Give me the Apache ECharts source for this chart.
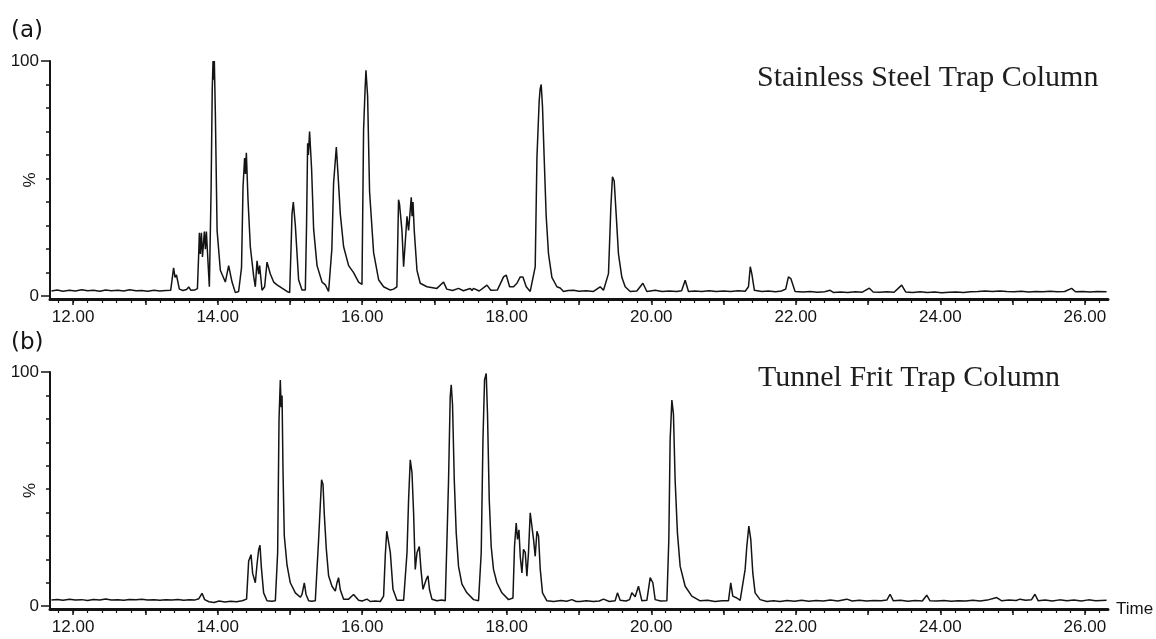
<!DOCTYPE html>
<html>
<head>
<meta charset="utf-8">
<script src="https://cdn.jsdelivr.net/npm/echarts@6/dist/echarts.min.js"></script>
<style>
html,body{margin:0;padding:0;background:#fff;}
#chart{width:1156px;height:639px;}
</style>
</head>
<body>
<div id="chart"></div>
<script>
// Retention time (min), relative intensity (%) pairs
var traceA = [
[11.70,2.2],[11.78,2.6],[11.86,2.1],[11.95,2.5],[12.03,2.2],[12.12,2.7],[12.20,2.3],[12.28,2.5],[12.37,2.1],[12.45,2.6],[12.53,2.3],[12.62,2.5],[12.70,2.2],[12.78,2.7],[12.87,2.3],[12.95,2.4],[13.03,2.1],[13.12,2.5],[13.20,2.2],[13.28,2.4],[13.35,2.5],
[13.39,12],[13.41,8],[13.43,9],[13.47,3],[13.52,2.4],[13.57,2.8],[13.60,3.9],[13.63,2.5],[13.68,2.6],[13.72,3.2],
[13.74,20],[13.747,27],[13.76,18],[13.775,27],[13.79,16.7],[13.816,27.5],[13.83,20],[13.844,27.5],[13.862,17],[13.885,4],[13.909,45],[13.925,88],[13.936,100],[13.945,92],[13.954,100],[13.968,78],[13.992,28],[14.037,11],[14.106,6],[14.152,13],[14.199,6],[14.245,1.5],[14.29,2],[14.33,12],[14.351,46.5],[14.373,58.7],[14.385,52],[14.397,61],[14.42,41],[14.452,21],[14.498,8.5],[14.521,4],[14.545,15],[14.567,9.4],[14.581,13],[14.614,2.5],[14.65,4],[14.683,14.5],[14.729,9.4],[14.775,6],[14.821,4.8],[14.89,3.4],[14.96,2],[14.996,1.5],
[15.015,20],[15.029,35],[15.047,40],[15.075,30],[15.12,7],[15.167,2.6],[15.213,2.6],[15.23,30],[15.245,65],[15.255,60],[15.272,70],[15.30,54],[15.328,28.5],[15.375,13],[15.444,6],[15.49,4.8],[15.535,2],[15.559,1.5],[15.58,20],[15.604,48],[15.642,63.4],[15.665,52],[15.697,35],[15.743,21],[15.812,13],[15.881,10],[15.95,6],[15.997,5],
[16.019,70.6],[16.04,88],[16.052,96],[16.075,85],[16.102,44.5],[16.158,18.5],[16.227,7],[16.296,4],[16.389,2.6],[16.434,3],[16.48,4],[16.503,41],[16.517,39],[16.55,28],[16.573,12.5],[16.62,34],[16.642,28],[16.679,42],[16.69,34],[16.703,40],[16.72,28],[16.758,11],[16.803,5.5],[16.896,4],
[17.034,3.3],[17.126,6],[17.17,3],[17.25,2.4],[17.333,3.3],[17.40,2.3],[17.495,3.3],[17.52,2.4],[17.54,3.3],[17.62,2.2],[17.726,4.7],[17.78,2.5],[17.87,2.6],[17.956,8.2],[17.993,9],
[18.04,4],[18.094,4],[18.141,5.5],[18.187,8.2],[18.224,8.2],[18.27,4],[18.325,2],[18.394,12.5],[18.418,59],[18.449,83],[18.462,88],[18.477,90],[18.495,80.5],[18.518,59],[18.546,34],[18.578,18],[18.625,8],[18.694,4],[18.74,3.5],[18.786,2],[18.85,2.4],[18.924,2.5],
[19.0,2.1],[19.10,2.3],[19.20,2.0],[19.293,4],[19.339,2.5],[19.362,3],[19.408,9.6],[19.441,38],[19.463,50.8],[19.487,49],[19.514,35],[19.546,18],[19.593,8],[19.639,4],[19.708,2],[19.80,2.2],[19.884,5.5],[19.939,2],
[20.054,2.5],[20.15,2.0],[20.25,2.2],[20.35,2.0],[20.42,2.3],[20.469,6.8],[20.515,2],[20.60,2.2],[20.70,2.0],[20.80,2.3],[20.90,2.0],
[21.00,2.2],[21.10,2.0],[21.20,2.3],[21.30,2.1],[21.345,4],[21.37,12.5],[21.391,9.6],[21.427,2.5],[21.53,2],[21.62,2.2],[21.72,1.9],[21.80,2.2],[21.86,3],[21.898,8.2],[21.931,7.5],[21.99,2],
[22.10,1.8],[22.20,2.0],[22.30,1.7],[22.40,1.9],[22.474,2.5],[22.52,1.6],[22.62,1.8],[22.72,1.6],[22.82,1.9],[22.92,1.7],
[23.018,3.4],[23.07,1.8],[23.16,1.7],[23.26,1.9],[23.36,1.7],[23.465,4.7],[23.52,1.8],[23.62,1.6],[23.72,1.9],[23.82,1.6],[23.92,1.8],
[24.02,1.5],[24.12,1.7],[24.22,1.8],[24.32,1.6],[24.42,1.9],[24.52,2.0],[24.62,2.2],[24.72,2.0],[24.82,2.2],[24.92,2.0],
[25.02,1.9],[25.12,2.1],[25.22,1.8],[25.32,2.0],[25.42,1.9],[25.52,2.1],[25.62,1.9],[25.72,2.0],[25.817,3.3],[25.87,1.9],[25.97,2.0],
[26.07,1.8],[26.17,2.0],[26.30,1.9]
];

var traceB = [
[11.70,2.6],[11.78,2.9],[11.86,2.5],[11.95,3.0],[12.03,2.6],[12.12,2.8],[12.20,2.4],[12.28,2.9],[12.37,2.6],[12.45,3.1],[12.53,2.6],[12.62,2.8],[12.70,2.5],[12.78,2.9],[12.87,2.7],[12.95,3.0],
[13.03,2.6],[13.12,2.8],[13.20,2.5],[13.28,2.8],[13.37,2.6],[13.45,2.9],[13.53,2.5],[13.61,2.8],[13.68,2.6],[13.74,3.2],[13.784,5.5],[13.82,2.8],[13.88,1.9],[13.95,1.6],
[14.02,2.2],[14.10,1.8],[14.18,2.1],[14.26,1.9],[14.34,2.3],[14.40,3],
[14.429,19.3],[14.462,22],[14.484,14],[14.521,10],[14.545,18],[14.567,24],[14.586,26],[14.604,16.8],[14.636,5.7],[14.683,2.3],[14.75,2.1],[14.798,2.3],
[14.83,22.8],[14.849,79.6],[14.867,96.6],[14.878,85],[14.891,90],[14.904,58],[14.922,30],[14.96,17.5],[15.005,10],[15.075,5.7],[15.144,3.8],[15.167,5],[15.199,10],[15.223,5],[15.259,2.3],[15.30,2.1],[15.351,2.3],
[15.397,28.5],[15.42,43],[15.438,54],[15.458,52],[15.476,39],[15.503,24.6],[15.535,13],[15.582,8.5],[15.628,6.4],[15.651,10],[15.673,12.2],[15.697,7],[15.743,3],[15.812,3],[15.881,5],[15.95,2.5],
[16.00,2.2],[16.066,3],[16.112,2],[16.18,2.2],[16.25,2.0],[16.296,4.3],[16.32,22],[16.34,32],[16.365,32],[16.389,23],[16.426,7.2],[16.481,2.5],[16.573,2.5],
[16.62,22.8],[16.642,45.5],[16.665,62.5],[16.689,57],[16.711,40],[16.734,15.7],[16.758,22.8],[16.79,25.5],[16.813,15.7],[16.841,7.2],[16.887,11.5],[16.91,13],[16.932,7],[16.965,3],
[17.034,2.3],[17.10,2.6],[17.149,2.3],[17.173,28.5],[17.195,54],[17.218,89.5],[17.232,94.5],[17.25,86],[17.274,54],[17.301,31.3],[17.333,17],[17.38,9.4],[17.449,5.7],[17.541,2.8],[17.61,2.3],
[17.647,22.8],[17.671,71],[17.693,96.6],[17.716,99.4],[17.734,82],[17.758,45.5],[17.785,25.5],[17.817,15.7],[17.864,10],[17.933,5.7],
[18.025,2.8],[18.086,3.5],[18.108,25.7],[18.131,35.5],[18.149,28.5],[18.169,32.6],[18.187,21.3],[18.21,14.2],[18.232,24.3],[18.256,23],[18.279,12.8],[18.301,22.8],[18.325,39.9],[18.348,40.6],[18.371,28.5],[18.394,21.3],[18.418,32],[18.44,30],[18.464,15.7],[18.495,5.7],[18.556,2.3],
[18.65,2.0],[18.75,2.4],[18.83,2.1],[18.902,2.8],[18.96,2.0],[19.016,2],[19.10,2.3],[19.20,2.0],[19.28,2.2],[19.339,3],[19.42,2.0],[19.50,2.3],[19.532,5.7],[19.57,2.5],[19.65,2.2],[19.70,2.8],[19.731,5.7],[19.777,4],[19.823,8.5],[19.87,2.3],[19.939,2.5],[19.985,12.2],
[20.022,10],[20.054,2.8],[20.13,2.2],[20.216,2.3],[20.243,28.5],[20.261,71],[20.285,88],[20.307,82],[20.33,54],[20.362,31.3],[20.40,17],[20.469,8.5],[20.561,4.3],[20.676,2.3],[20.78,2.5],[20.88,2.0],[20.98,2.3],
[21.068,2.3],[21.10,10],[21.128,4.3],[21.184,3.5],[21.23,2.5],[21.299,15.7],[21.322,25.5],[21.35,34.2],[21.377,28.5],[21.405,14.2],[21.437,5.7],[21.506,2.8],[21.60,2.0],[21.69,2.3],[21.78,2.0],[21.88,2.4],[21.98,2.1],
[22.08,2.5],[22.18,2.1],[22.28,2.4],[22.38,2.2],[22.48,2.6],[22.58,2.2],[22.705,3],[22.78,2.2],[22.88,2.5],[22.98,2.2],
[23.08,2.4],[23.18,2.3],[23.26,2.6],[23.304,5.1],[23.35,2.3],[23.45,2.5],[23.55,2.1],[23.65,2.4],[23.75,2.2],[23.812,4.7],[23.857,2.3],[23.95,2.2],
[24.05,2.4],[24.15,2.1],[24.25,2.3],[24.35,2.2],[24.45,2.5],[24.55,2.2],[24.65,2.6],[24.78,3.7],[24.85,2.3],[24.95,2.6],
[25.05,2.4],[25.102,3],[25.18,2.5],[25.26,2.7],[25.309,5.1],[25.355,2.3],[25.45,2.6],[25.55,2.2],[25.65,2.7],[25.75,2.3],[25.85,2.6],[25.95,2.2],
[26.05,2.7],[26.15,2.3],[26.30,2.5]
];

var xLabelValues = [12, 14, 16, 18, 20, 22, 24, 26];
var xMajorTicks = [12, 13, 14, 15, 16, 17, 18, 19, 20, 21, 22, 23, 24, 25, 26];
var yLabelValues = [0, 100];
var yMinorTicks = [10, 20, 30, 40, 50, 60, 70, 80, 90];
var panelTitles = ['Stainless Steel Trap Column', 'Tunnel Frit Trap Column'];
var panelLetters = ['(a)', '(b)'];

var xMinorTicks = [];
for (var i = 118; i <= 262; i += 2) { xMinorTicks.push(i / 10); }

var XMIN = 11.68, XMAX = 26.32, YMIN = -1.2, YMAX = 100;
var INK = '#141414';

function mainX(gridIndex, withName) {
  return {
    type: 'value', gridIndex: gridIndex, min: XMIN, max: XMAX, position: 'bottom',
    name: withName ? 'Time' : '', nameLocation: 'end', nameGap: 8,
    nameTextStyle: { fontSize: 17, color: INK, fontFamily: 'Liberation Sans', verticalAlign: 'middle' },
    axisLine: { show: true, onZero: false, lineStyle: { color: INK, width: 3 } },
    axisTick: { show: true, customValues: xMajorTicks, length: 6, lineStyle: { color: INK, width: 1.5 } },
    axisLabel: { show: true, customValues: xLabelValues, margin: 10, fontSize: 17, color: INK,
      fontFamily: 'Liberation Sans', formatter: function (v) { return Number(v).toFixed(2); } },
    splitLine: { show: false }
  };
}
function minorX(gridIndex) {
  return {
    type: 'value', gridIndex: gridIndex, min: XMIN, max: XMAX, position: 'bottom',
    axisLine: { show: false, onZero: false },
    axisTick: { show: true, customValues: xMinorTicks, length: 4, lineStyle: { color: INK, width: 1.2 } },
    axisLabel: { show: false },
    splitLine: { show: false }
  };
}
function mainY(gridIndex) {
  return {
    type: 'value', gridIndex: gridIndex, min: YMIN, max: YMAX, position: 'left',
    name: '%', nameLocation: 'middle', nameRotate: 90, nameGap: 11, nameMoveOverlap: false,
    nameTextStyle: { fontSize: 17, color: INK, fontFamily: 'Liberation Sans' },
    axisLine: { show: true, onZero: false, lineStyle: { color: INK, width: 2 } },
    axisTick: { show: true, customValues: yLabelValues, length: 9, lineStyle: { color: INK, width: 1.5 } },
    axisLabel: { show: true, customValues: yLabelValues, margin: 11, fontSize: 17, color: INK, fontFamily: 'Liberation Sans' },
    splitLine: { show: false }
  };
}
function minorY(gridIndex) {
  return {
    type: 'value', gridIndex: gridIndex, min: YMIN, max: YMAX, position: 'left',
    axisLine: { show: false, onZero: false },
    axisTick: { show: true, customValues: yMinorTicks, length: 4, lineStyle: { color: INK, width: 1.5 } },
    axisLabel: { show: false },
    splitLine: { show: false }
  };
}

var chart = echarts.init(document.getElementById('chart'), null, { renderer: 'canvas' });
chart.setOption({
  animation: false,
  backgroundColor: '#ffffff',
  grid: [
    { left: 50, right: 48, top: 61, bottom: 340, containLabel: false, outerBoundsMode: 'none' },
    { left: 50, right: 48, top: 372, bottom: 30, containLabel: false, outerBoundsMode: 'none' }
  ],
  xAxis: [mainX(0, false), minorX(0), mainX(1, true), minorX(1)],
  yAxis: [mainY(0), minorY(0), mainY(1), minorY(1)],
  series: [
    { type: 'line', xAxisIndex: 0, yAxisIndex: 0, data: traceA, showSymbol: false, silent: true,
      lineStyle: { color: INK, width: 1.5 } },
    { type: 'line', xAxisIndex: 2, yAxisIndex: 2, data: traceB, showSymbol: false, silent: true,
      lineStyle: { color: INK, width: 1.5 } }
  ],
  graphic: [
    { type: 'text', x: 11, y: 31, style: { text: panelLetters[0], font: '23px "DejaVu Sans"', fill: INK, align: 'left', verticalAlign: 'middle' } },
    { type: 'text', x: 11, y: 343, style: { text: panelLetters[1], font: '23px "DejaVu Sans"', fill: INK, align: 'left', verticalAlign: 'middle' } },
    { type: 'text', x: 757, y: 78, style: { text: panelTitles[0], font: '30px "Liberation Serif"', fill: '#1e1e1e', align: 'left', verticalAlign: 'middle' } },
    { type: 'text', x: 758, y: 378, style: { text: panelTitles[1], font: '30px "Liberation Serif"', fill: '#1e1e1e', align: 'left', verticalAlign: 'middle' } }
  ]
});
</script>
</body>
</html>
